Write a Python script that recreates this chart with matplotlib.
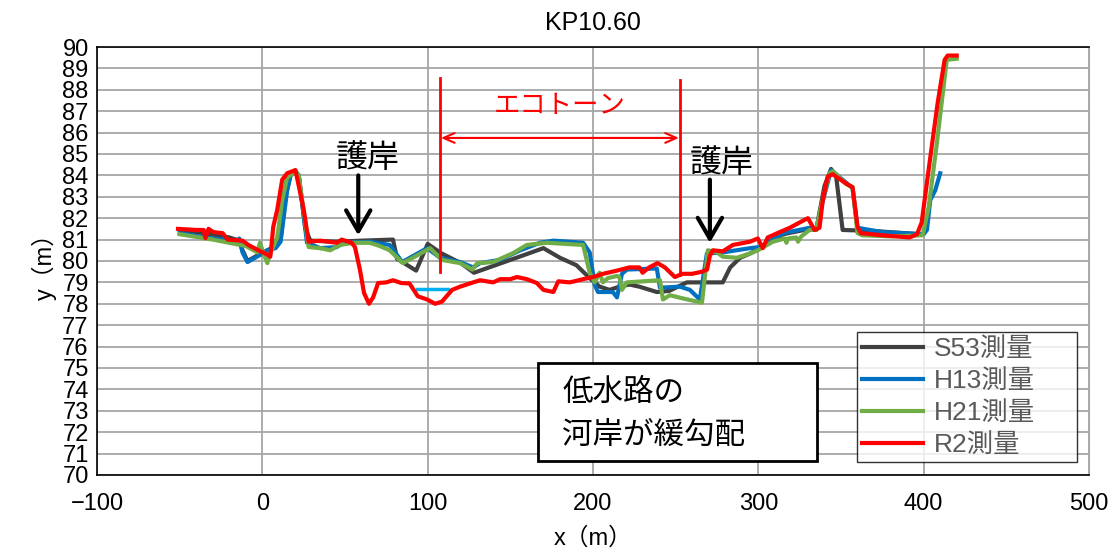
import matplotlib
matplotlib.use("Agg")
import matplotlib.pyplot as plt
from matplotlib import font_manager
from matplotlib.patches import Rectangle

names = {f.name for f in font_manager.fontManager.ttflist}
NARROW = "Liberation Sans Narrow" if "Liberation Sans Narrow" in names else "Liberation Sans"
JP = "Noto Sans CJK JP"
plt.rcParams["font.family"] = [NARROW, JP, "DejaVu Sans"]
plt.rcParams["axes.unicode_minus"] = True

# ---------------- data ----------------
s53_x = [-50, -35, -20, -14, -12, -9, -2, 3, 8, 11, 14, 17, 20, 22, 26, 29, 45, 60, 79, 81.5, 93,
         100, 108, 120, 128, 150, 170, 180, 190, 198, 204, 210, 216, 222, 228, 238.6, 246, 256.8,
         278.5, 283, 289, 295, 301, 315, 331, 335, 340, 344, 347, 351, 370, 398]
s53_y = [81.45, 81.3, 81.1, 80.95, 80.5, 80.0, 80.3, 80.5, 80.7, 81.0, 83.0, 84.0, 84.2, 84.0, 81.5,
         80.95, 80.9, 80.95, 81.0, 80.1, 79.55, 80.8, 80.37, 79.9, 79.45, 80.05, 80.6, 80.15, 79.8,
         79.2, 78.8, 78.65, 78.8, 78.9, 78.8, 78.55, 78.6, 79.0, 79.0, 79.7, 80.15, 80.35, 80.6,
         81.25, 81.5, 81.45, 83.5, 84.3, 84.0, 81.45, 81.4, 81.25]

h13_x = [-50, -30, -15, -14, -12, -9, -1, 3, 8, 11, 15, 17, 20, 22, 27, 35, 45, 49, 65, 77, 84.6,
         99.7, 107.5, 119.6, 127.5, 131.7, 143.8, 156, 168, 176, 194, 198, 201, 203, 212, 214.5,
         217.5, 220.5, 238.6, 240.5, 252.6, 258.6, 264.6, 268.9, 278.5, 295, 301, 315, 331, 335,
         339, 344, 354, 357, 360, 375, 400, 402, 404, 407, 410]
h13_y = [81.3, 81.05, 80.95, 81.05, 80.4, 79.95, 80.3, 80.5, 80.6, 80.9, 83.3, 84.0, 84.15, 84.0,
         80.85, 80.6, 80.65, 80.85, 80.9, 80.75, 79.95, 80.6, 80.15, 79.95, 79.7, 79.9, 80.05, 80.5,
         80.85, 80.95, 80.85, 80.4, 78.9, 78.55, 78.55, 78.3, 79.4, 79.6, 79.65, 78.75, 78.8, 78.65,
         78.2, 80.35, 80.4, 80.6, 80.65, 81.3, 81.55, 81.45, 82.8, 84.25, 83.6, 83.4, 81.55, 81.35,
         81.25, 81.45, 82.85, 83.3, 84.1]

h21_x = [-50, -30, -10, -3, -1.5, 1, 3, 5, 9, 12, 15, 20, 22, 28, 35, 41, 47, 55, 65, 71, 77, 85,
         91, 101.5, 108.6, 119.6, 127, 130, 139.6, 151.7, 160, 172, 194, 198, 201, 204, 206, 209,
         214.5, 216, 217.5, 220.5, 240.5, 242.3, 246.5, 254.4, 265.9, 269.5, 275, 278.5, 287, 295,
         299.7, 308.8, 316, 317, 318, 323, 324, 326, 331, 335, 339, 343, 345, 353, 357, 360, 363,
         380, 399.4, 403, 408, 414, 420]
h21_y = [81.25, 81.0, 80.7, 80.4, 80.85, 80.3, 79.9, 80.4, 81.1, 82.85, 83.9, 84.15, 84.0, 80.65,
         80.6, 80.5, 80.75, 80.85, 80.85, 80.7, 80.5, 79.9, 80.15, 80.6, 80.05, 79.9, 79.6, 79.9,
         79.95, 80.37, 80.75, 80.85, 80.75, 79.45, 79.0, 79.45, 79.0, 79.2, 79.3, 79.25, 78.65,
         79.0, 79.1, 78.2, 78.4, 78.25, 78.05, 80.5, 80.4, 80.2, 80.15, 80.35, 80.5, 80.9, 81.05,
         80.85, 81.05, 81.1, 80.9, 81.15, 81.45, 81.45, 82.9, 84.1, 84.2, 83.6, 83.45, 81.3, 81.2,
         81.15, 81.2, 82.5, 85.5, 89.4, 89.45]

r2_x = [-51, -40, -35.5, -34.4, -32.6, -29.6, -24, -21, -12, -8.5, -2.4, 3, 4.8, 6.6, 9, 12, 15,
        20, 25, 28, 35, 45, 48, 54, 56, 59, 61.5, 64.5, 67, 70, 75, 79, 84, 89, 94, 99.7, 104.5,
        108.6, 114.8, 119.6, 127.5, 131.7, 139.6, 143.8, 150, 154, 160, 166, 170, 176, 179, 186,
        194, 200, 206, 214.5, 222, 228, 230, 234, 239, 243.5, 249.5, 254, 260, 266, 269, 270.7,
        272.5, 278.5, 284.6, 294.9, 299.7, 302.7, 305.7, 313, 319, 325, 330, 334, 337, 339, 342,
        345, 353.5, 357, 360, 362, 375, 391.5, 396, 398.8, 403.6, 408.5, 412.7, 414.5, 420]
r2_y = [81.5, 81.45, 81.45, 81.07, 81.5, 81.35, 81.3, 81.0, 80.95, 80.75, 80.5, 80.3, 80.2, 81.6,
        82.4, 83.8, 84.1, 84.25, 82.4, 80.9, 80.95, 80.85, 81.0, 80.85, 80.65, 79.6, 78.5, 78.0,
        78.3, 78.97, 79.0, 79.1, 78.97, 78.95, 78.35, 78.2, 78.0, 78.1, 78.65, 78.8, 79.0, 79.1,
        79.0, 79.15, 79.15, 79.25, 79.15, 78.97, 78.65, 78.55, 79.05, 79.0, 79.15, 79.25, 79.4,
        79.55, 79.7, 79.7, 79.45, 79.7, 79.9, 79.7, 79.25, 79.4, 79.4, 79.5, 79.6, 80.25, 80.5,
        80.45, 80.75, 80.9, 81.05, 80.6, 81.1, 81.35, 81.55, 81.8, 82.0, 81.45, 81.55, 82.85, 83.95,
        84.05, 83.6, 83.45, 81.6, 81.3, 81.2, 81.1, 81.25, 81.8, 84.6, 87.4, 89.4, 89.6, 89.6]

water_x = [93.5, 112.5]
water_y = [78.7, 78.7]

labels = ["S53測量", "H13測量", "H21測量", "R2測量"]
colors = ["#404040", "#0070C0", "#70AD47", "#FF0000"]

title = "KP10.60"
xlabel = "x（m）"
ylabel = "y（m）"

# ---------------- figure ----------------
fig = plt.figure(figsize=(11.13, 5.51), dpi=100)
ax = fig.add_axes([0.0872, 0.138, 0.8912, 0.7767])

series = [(s53_x, s53_y), (h13_x, h13_y), (h21_x, h21_y), (r2_x, r2_y)]
for (xs, ys), lab, c in zip(series, labels, colors):
    ax.plot(xs, ys, color=c, lw=3, label=lab, solid_joinstyle="round", zorder=3)
ax.plot(water_x, water_y, color="#00B0F0", lw=2.5, zorder=2.5)

ax.set_xlim(-100, 500)
ax.set_ylim(70, 90)
ax.set_xticks(range(-100, 501, 100))
ax.set_yticks(range(70, 91, 1))
ax.grid(True, color="#A6A6A6", lw=1.3, zorder=0)
ax.set_axisbelow(True)
ax.tick_params(length=0, labelsize=17)
ax.tick_params(axis="x", pad=13)
ax.tick_params(axis="y", pad=6)
for sp in ["left", "bottom", "top"]:
    ax.spines[sp].set_color("black")
    ax.spines[sp].set_linewidth(1.2)
ax.spines["right"].set_color("#A6A6A6")

ax.set_title(title, fontsize=18, pad=12)
ax.set_xlabel(xlabel, fontsize=17, family=[NARROW, JP], labelpad=9)
ax.set_ylabel(ylabel, fontsize=17, family=[NARROW, JP], labelpad=4)

# annotations
ax.plot([107.5, 107.5], [79.5, 88.55], color="red", lw=2, zorder=4)
ax.plot([252.6, 252.6], [79.35, 88.45], color="red", lw=2, zorder=4)
ax.annotate("", xy=(252, 85.75), xytext=(108, 85.75),
            arrowprops=dict(arrowstyle="<->,head_length=0.8,head_width=0.35", color="red",
                            lw=1.5, shrinkA=0, shrinkB=0), zorder=4)
ax.text(180, 87.25, "エコトーン", color="red", fontsize=19, family=[JP], ha="center", va="center")

ax.text(64, 84.8, "護岸", fontsize=23, family=[JP], ha="center", va="center")
ax.annotate("", xy=(58, 81.2), xytext=(58, 84.0),
            arrowprops=dict(arrowstyle="->,head_length=0.6,head_width=0.35", color="black",
                            lw=3, shrinkA=0, shrinkB=0, mutation_scale=25), zorder=5)
ax.text(278, 84.6, "護岸", fontsize=23, family=[JP], ha="center", va="center")
ax.annotate("", xy=(270.7, 80.85), xytext=(270.7, 83.8),
            arrowprops=dict(arrowstyle="->,head_length=0.6,head_width=0.35", color="black",
                            lw=3, shrinkA=0, shrinkB=0, mutation_scale=25), zorder=5)

ax.add_patch(Rectangle((0.4446, 0.0327), 0.2812, 0.229, transform=ax.transAxes,
                       fc="white", ec="black", lw=2, zorder=6))
ax.text(0.4688, 0.1916, "低水路の", transform=ax.transAxes, fontsize=22, family=[JP],
        va="center", ha="left", zorder=7)
ax.text(0.4688, 0.0935, "河岸が緩勾配", transform=ax.transAxes, fontsize=22, family=[JP],
        va="center", ha="left", zorder=7)

leg = ax.legend(loc="lower left", bbox_to_anchor=(0.766, 0.030, 0.222, 0.297), mode="expand",
                borderaxespad=0, frameon=True, fancybox=False, edgecolor="black",
                handlelength=2.3, labelspacing=0.3, handletextpad=0.4, borderpad=0.2,
                prop={"family": [NARROW, JP], "size": 19})
leg.get_frame().set_linewidth(1.0)
leg.set_zorder(8)
for t in leg.get_texts():
    t.set_color("#595959")

fig.savefig("out.png", dpi=100)
